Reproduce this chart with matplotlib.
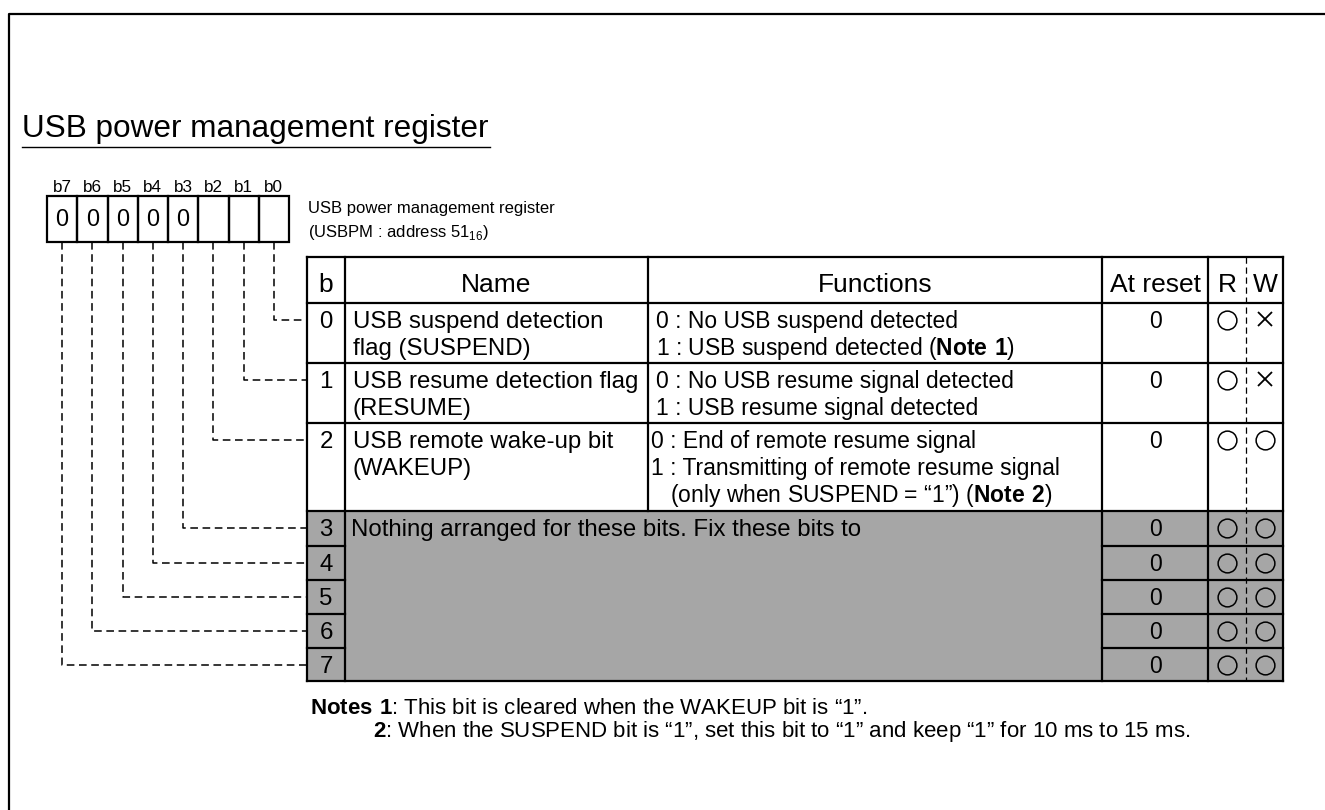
import matplotlib
matplotlib.use('Agg')
import matplotlib.pyplot as plt
from matplotlib.patches import Rectangle

plt.rcParams['font.family'] = ['Liberation Sans', 'DejaVu Sans']
plt.rcParams['mathtext.fontset'] = 'custom'
plt.rcParams['mathtext.rm'] = 'Liberation Sans'
plt.rcParams['mathtext.bf'] = 'Liberation Sans:bold'

# register content
title = 'USB power management register'
reg_name = 'USB power management register'
reg_addr = '(USBPM : address $51_{16}$)'
bit_labels = ['b7', 'b6', 'b5', 'b4', 'b3', 'b2', 'b1', 'b0']
bit_init = ['0', '0', '0', '0', '0', '', '', '']
headers = ['b', 'Name', 'Functions', 'At reset', 'R', 'W']
row_bits = ['0', '1', '2', '3', '4', '5', '6', '7']
names = [['USB suspend detection', 'flag (SUSPEND)'],
         ['USB resume detection flag', '(RESUME)'],
         ['USB remote wake-up bit', '(WAKEUP)']]
functions = [['0 : No USB suspend detected',
              r'1 : USB suspend detected ($\mathbf{Note\ 1}$)'],
             ['0 : No USB resume signal detected',
              '1 : USB resume signal detected'],
             ['0 : End of remote resume signal',
              '1 : Transmitting of remote resume signal',
              r'   (only when SUSPEND = “1”) ($\mathbf{Note\ 2}$)']]
reserved_text = 'Nothing arranged for these bits. Fix these bits to'
reset_vals = ['0', '0', '0', '0', '0', '0', '0', '0']
r_access = ['o', 'o', 'o', 'o', 'o', 'o', 'o', 'o']
w_access = ['x', 'x', 'o', 'o', 'o', 'o', 'o', 'o']
notes = [r'$\mathbf{Notes\ 1}$: This bit is cleared when the WAKEUP bit is “1”.',
         r'$\mathbf{2}$: When the SUSPEND bit is “1”, set this bit to “1” and keep “1” for 10 ms to 15 ms.']

# layout (pixels)
W, H = 1325, 810
xb0, xb1, xname, xfunc, xreset, xrw, xend = 307, 345, 648, 1102, 1208, 1246, 1283
ytop, yhead = 257, 303
row_edges = [303, 363, 423, 511, 546, 580, 614, 648, 681]
box_x0, box_w, box_y0, box_y1 = 47, 30.25, 196, 242
gray = '#a6a6a6'
lw = 1.6

fig = plt.figure(figsize=(W / 100, H / 100), dpi=100)
ax = fig.add_axes([0, 0, 1, 1])
ax.set_xlim(0, W)
ax.set_ylim(H, 0)
ax.axis('off')

# page frame
ax.plot([9, 9, W], [H, 14, 14], color='black', lw=1.6, solid_capstyle='butt')

# title
ax.text(22, 137, title, fontsize=22.7, va='baseline', ha='left')
ax.plot([22, 490], [147, 147], color='black', lw=1.0)

# bit boxes
for k, lab in enumerate(bit_labels):
    cx = box_x0 + (k + 0.5) * box_w
    ax.text(cx, 187, lab, fontsize=12.3, ha='center', va='center')
    ax.add_patch(Rectangle((box_x0 + k * box_w, box_y0), box_w, box_y1 - box_y0,
                           fill=False, ec='black', lw=lw))
    if bit_init[k]:
        ax.text(cx, 219, bit_init[k], fontsize=16.8, ha='center', va='center')

ax.text(308, 209, reg_name, fontsize=12, ha='left', va='center')
ax.text(308, 233, reg_addr, fontsize=12, ha='left', va='center')

# gray reserved area
ax.add_patch(Rectangle((xb0, row_edges[3]), xend - xb0, row_edges[-1] - row_edges[3],
                       fc=gray, ec='none'))

def hline(y, x0, x1):
    ax.plot([x0, x1], [y, y], color='black', lw=lw, solid_capstyle='projecting')

def vline(x, y0, y1):
    ax.plot([x, x], [y0, y1], color='black', lw=lw, solid_capstyle='projecting')

hline(ytop, xb0, xend)
hline(yhead, xb0, xend)
for i, y in enumerate(row_edges[1:]):
    if i < 3 or y == row_edges[-1]:
        hline(y, xb0, xend)
    else:
        hline(y, xb0, xb1)
        hline(y, xfunc, xend)
vline(xb0, ytop, row_edges[-1])
vline(xb1, ytop, row_edges[-1])
vline(xname, ytop, row_edges[3])
vline(xfunc, ytop, row_edges[-1])
vline(xreset, ytop, row_edges[-1])
vline(xend, ytop, row_edges[-1])
ax.plot([xrw, xrw], [ytop, row_edges[-1]], color='black', lw=0.9, dashes=(5, 3))

# header
hx = [(xb0 + xb1) / 2, (xb1 + xname) / 2, (xname + xfunc) / 2, (xfunc + xreset) / 2, 1227, 1265]
for x, h in zip(hx, headers):
    ax.text(x, 292, h, fontsize=19, ha='center', va='baseline')

# rows
fs_name, fs_func = 17.3, 16.5
for n in range(8):
    top = row_edges[n]
    base = top + 25
    ax.text((xb0 + xb1) / 2, base, row_bits[n], fontsize=fs_name, ha='center', va='baseline')
    if n < len(names):
        for j, line in enumerate(names[n]):
            ax.text(353, base + 27 * j, line, fontsize=fs_name, ha='left', va='baseline')
        fx = 656 if n < 2 else 651
        for j, line in enumerate(functions[n]):
            ax.text(fx, base + 27 * j, line, fontsize=fs_func, ha='left', va='baseline')
    elif n == 3:
        ax.text(351, base, reserved_text, fontsize=fs_name, ha='left', va='baseline')
    ax.text((xfunc + xreset) / 2, base, reset_vals[n], fontsize=fs_func, ha='center', va='baseline')
    for x, acc in ((1227, r_access[n]), (1265, w_access[n])):
        if acc == 'o':
            ax.plot(x, top + 17, marker='o', ms=13.5, mfc='none', mec='black', mew=1.1)
        else:
            ax.plot(x, top + 16, marker='x', ms=10, mec='black', mew=1.3)

# leader lines from bit boxes to rows
for k in range(8):
    n = 7 - k
    cx = box_x0 + (k + 0.5) * box_w
    y = row_edges[n] + 17
    ax.plot([cx, cx, xb0], [box_y1, y, y], color='black', lw=1.1, dashes=(5, 3))

# notes
ax.text(310, 708, notes[0], fontsize=16, ha='left', va='center')
ax.text(373, 731, notes[1], fontsize=16, ha='left', va='center')

fig.savefig('out.png', dpi=100)
